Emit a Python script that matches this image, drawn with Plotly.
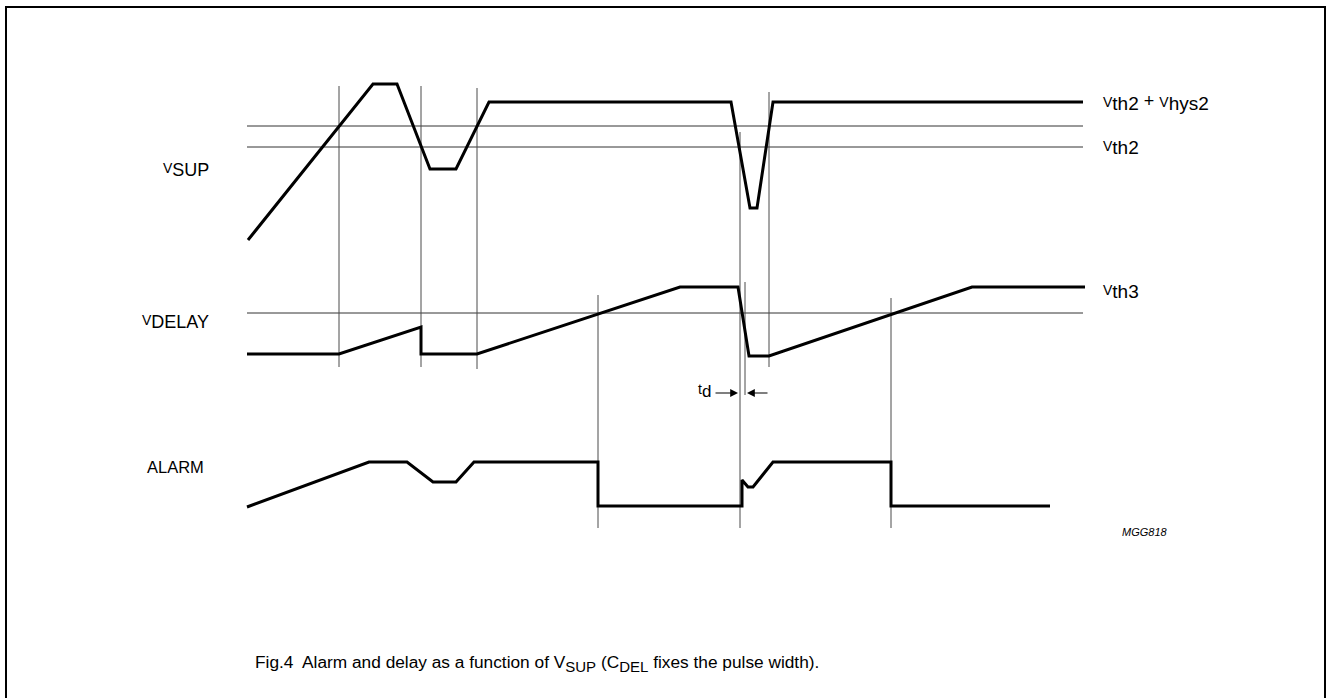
import plotly.graph_objects as go

# ---- data (time axis ~ horizontal position, level ~ vertical position) ----
vsup_t = [248, 373, 397, 430, 456, 489, 731, 750, 757, 773, 1083]
vsup_v = [240, 84, 84, 169, 169, 102, 102, 208, 208, 102, 102]

vdelay_t = [247, 339, 421, 421, 477, 680, 738, 749, 769, 972, 1085]
vdelay_v = [354, 354, 327, 354, 354, 287, 287, 356, 356, 287, 287]

alarm_t = [247, 369, 407, 433, 456, 474, 598, 598, 742, 742, 748, 753, 773, 891, 891, 1050]
alarm_v = [507, 462, 462, 482, 482, 462, 462, 506, 506, 480, 487, 487, 462, 462, 506, 506]

thr_levels = [126, 147, 313]
thr_start = 247
thr_end = 1083

# event markers: time, top, bottom
event_t = [339, 421, 477, 740, 769, 598, 891, 745]
event_top = [86, 86, 88, 132, 92, 295, 298, 282]
event_bot = [367, 367, 369, 528, 367, 528, 528, 395]

td_t0, td_t1 = 740, 745

W, H = 1327, 698
FONT = "Arial, Liberation Sans, Helvetica, sans-serif"

fig = go.Figure()

# thresholds
for lv in thr_levels:
    fig.add_trace(go.Scatter(x=[thr_start, thr_end], y=[lv, lv], mode="lines",
                             line=dict(color="#333333", width=1), hoverinfo="skip", showlegend=False))

# event markers
for t, a, b in zip(event_t, event_top, event_bot):
    fig.add_trace(go.Scatter(x=[t, t], y=[a, b], mode="lines",
                             line=dict(color="#4a4a4a", width=1), hoverinfo="skip", showlegend=False))

# waveforms
for tt, vv in [(vsup_t, vsup_v), (vdelay_t, vdelay_v), (alarm_t, alarm_v)]:
    fig.add_trace(go.Scatter(x=tt, y=vv, mode="lines",
                             line=dict(color="black", width=3), hoverinfo="skip", showlegend=False))

ann = []
def lab(x, y, text, size=14, xanchor="left"):
    ann.append(dict(x=x, y=y, xref="x", yref="y", text=text, showarrow=False,
                    xanchor=xanchor, yanchor="middle",
                    font=dict(family=FONT, size=size, color="black")))

S = '<sub><span style="font-size:18px">%s</span></sub>'
R = '<sub><span style="font-size:19px">%s</span></sub>'
lab(211, 170, "V" + S % "SUP", xanchor="right")
lab(211, 322, "V" + S % "DELAY", xanchor="right")
lab(206, 467, "ALARM", size=16.5, xanchor="right")

lab(1101, 102, "V" + R % "th2" + '<span style="font-size:18px"> + </span>V' + R % "hys2")
lab(1101, 147, "V" + R % "th2")
lab(1101, 291, "V" + R % "th3")

lab(713, 391, "t" + '<sub><span style="font-size:17px">d</span></sub>', xanchor="right")

ann.append(dict(x=1170, y=532, xref="x", yref="y", text="<i>MGG818</i>", showarrow=False,
                xanchor="right", yanchor="middle", font=dict(family=FONT, size=11, color="black")))

ann.append(dict(x=253, y=663, xref="x", yref="y",
                text="Fig.4  Alarm and delay as a function of V" + '<sub><span style="font-size:15px">SUP</span></sub>'
                     + " (C" + '<sub><span style="font-size:15px">DEL</span></sub>' + " fixes the pulse width).",
                showarrow=False, xanchor="left", yanchor="middle",
                font=dict(family=FONT, size=17.3, color="black")))

# td arrows
ann.append(dict(x=td_t0 - 2, y=393, ax=td_t0 - 26, ay=393, xref="x", yref="y", axref="x", ayref="y",
                text="", showarrow=True, arrowhead=2, arrowsize=1.3, arrowwidth=1.2, arrowcolor="black"))
ann.append(dict(x=td_t1 + 2, y=393, ax=td_t1 + 24, ay=393, xref="x", yref="y", axref="x", ayref="y",
                text="", showarrow=True, arrowhead=2, arrowsize=1.3, arrowwidth=1.2, arrowcolor="black"))

fig.update_layout(
    width=W, height=H,
    margin=dict(l=0, r=0, t=0, b=0),
    paper_bgcolor="white", plot_bgcolor="white",
    xaxis=dict(range=[0, W], visible=False, fixedrange=True),
    yaxis=dict(range=[H, 0], visible=False, fixedrange=True),
    annotations=ann,
    shapes=[dict(type="rect", xref="x", yref="y", x0=6, y0=7, x1=1325, y1=702,
                 line=dict(color="black", width=2), layer="above")],
)

fig.write_html("out.html", config={"displayModeBar": False},
               post_script="document.body.style.margin='0';document.body.style.overflow='hidden';")
